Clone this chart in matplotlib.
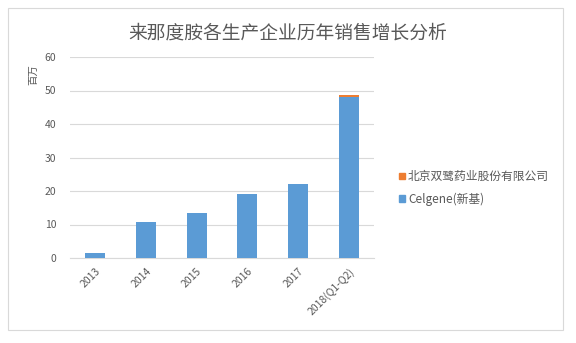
import matplotlib
matplotlib.use("Agg")
import matplotlib.pyplot as plt
from matplotlib.patches import Rectangle, Patch

plt.rcParams['font.family'] = ['Noto Sans CJK SC', 'DejaVu Sans']

categories = ['2013', '2014', '2015', '2016', '2017', '2018(Q1-Q2)']
celgene = [1.5, 10.8, 13.5, 19.2, 22.0, 48.0]
shuanglu = [0, 0, 0, 0, 0, 0.7]
title = '来那度胺各生产企业历年销售增长分析'
series_names = ['北京双鹭药业股份有限公司', 'Celgene(新基)']
yticks = [0, 10, 20, 30, 40, 50, 60]

blue = '#5B9BD5'
orange = '#ED7D31'
gray = '#595959'

fig = plt.figure(figsize=(5.76, 3.43), dpi=100)
W, H = 576, 343
fig.patches.append(Rectangle((8 / W, 1 - 330 / H), 555 / W, 322 / H, transform=fig.transFigure,
                             fill=False, edgecolor='#d9d9d9', linewidth=0.8))

ax = fig.add_axes([70 / W, 1 - 258 / H, 304 / W, 201 / H])
x = range(len(categories))
ax.bar(x, celgene, width=0.4, color=blue, zorder=3)
ax.bar(x, shuanglu, bottom=celgene, width=0.4, color=orange, zorder=3)
ax.set_xlim(-0.5, len(categories) - 0.5)
ax.set_ylim(0, 60)
ax.set_yticks(yticks)
ax.yaxis.grid(True, color='#d9d9d9', linewidth=0.8, zorder=0)
for s in ['top', 'right', 'left']:
    ax.spines[s].set_visible(False)
ax.spines['bottom'].set_color('#d9d9d9')
ax.tick_params(axis='both', length=0, colors=gray, labelsize=7.5)
ax.tick_params(axis='y', pad=10)
ax.set_xticks(list(x))
ax.set_xticklabels(categories, rotation=45, ha='right', rotation_mode='anchor')
ax.tick_params(axis='x', pad=6)

fig.text(33 / W, 1 - 75 / H, '百万', rotation=90, color=gray, fontsize=7.5, ha='center', va='center')
fig.text(288 / W, 1 - 33 / H, title, color=gray, fontsize=13.5, ha='center', va='center')

handles = [Patch(color=orange), Patch(color=blue)]
leg = fig.legend(handles, series_names, loc='center left', bbox_to_anchor=(388 / W, 1 - 188 / H),
                 frameon=False, fontsize=8.5, handlelength=0.5, handleheight=0.5, handletextpad=0.3,
                 labelspacing=0.8, labelcolor=gray)

fig.savefig('out.png', dpi=100)
